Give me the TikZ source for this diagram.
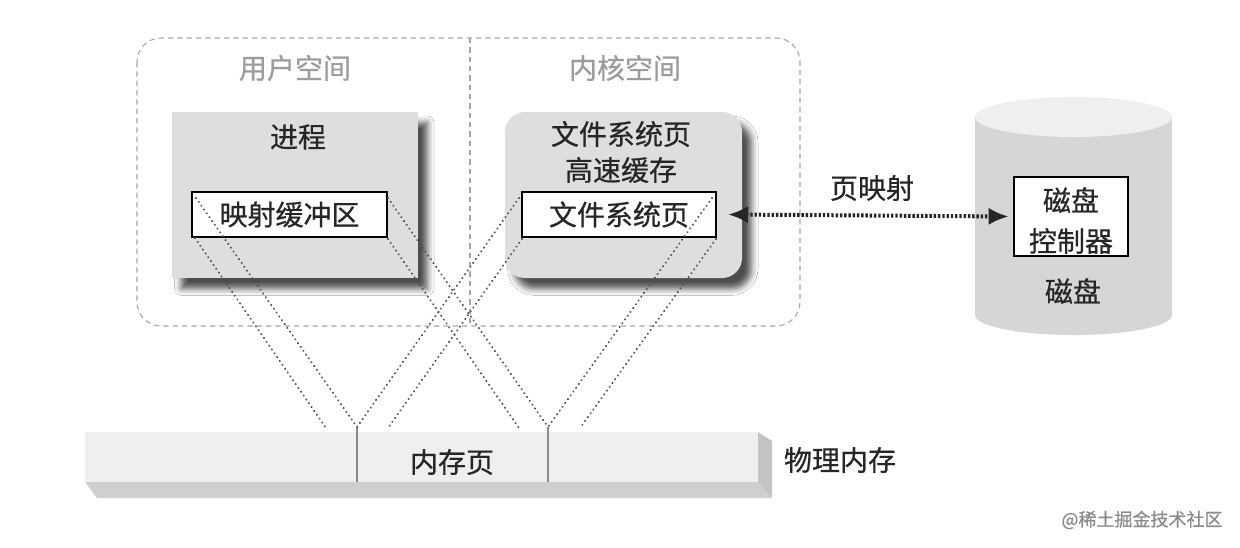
\documentclass[tikz,border=0pt]{standalone}
\usepackage{fontspec}
\setmainfont{Noto Sans CJK SC}[FakeBold=0.6, AutoFakeBold=0.6]
\usetikzlibrary{arrows.meta,shadows.blur}
\definecolor{boxgray}{HTML}{DEDEDE}
\definecolor{diskgray}{HTML}{D6D6D6}
\definecolor{disktop}{HTML}{EFEFEF}
\definecolor{memface}{HTML}{EFEFEF}
\definecolor{membot}{HTML}{CFCFCF}
\definecolor{memside}{HTML}{C4C4C4}
\definecolor{txt}{HTML}{262626}
\definecolor{regiontxt}{HTML}{9C9C9C}
\begin{document}
\begin{tikzpicture}[x=0.75pt,y=-0.75pt,
  every node/.style={inner sep=0pt, outer sep=0pt},
  lbl/.style={font=\fontsize{21}{24}\selectfont\bfseries, text=txt},
  regionlbl/.style={font=\fontsize{21}{24}\selectfont, text=regiontxt},
  region/.style={draw=black!35, line width=0.8pt, dash pattern=on 4pt off 3pt},
  graybox/.style={fill=boxgray, blur shadow={shadow xshift=7pt, shadow yshift=-8pt, shadow blur radius=5pt, shadow opacity=70}},
  whitebox/.style={draw=black, fill=white, line width=2.2pt},
  maplink/.style={draw=black!70, line width=1.6pt, dash pattern=on 0.1pt off 3.4pt, line cap=round},
  pagemap/.style={draw=black!85, line width=3pt, dash pattern=on 1.8pt off 1.4pt, {Latex[length=15pt,width=13pt]}-{Latex[length=15pt,width=13pt]}},
]
\fill[white] (0,0) rectangle (1240,547);
\useasboundingbox (0,0) rectangle (1240,547);

% region frame
\draw[region, rounded corners=18pt] (137,38) rectangle (800,326);
\coordinate (divtop) at (470,38);
\coordinate (divbot) at (470,326);
\draw[region] (divtop) -- (divbot);
\node[regionlbl] (user) at (295,68) {用户空间};
\node[regionlbl] (kernel) at (625,68) {内核空间};

% process box
\node[graybox, minimum width=184.5pt, minimum height=124.5pt] (proc) at (295,195) {};
\node[lbl] (proclbl) at (298,137) {进程};
\node[whitebox, minimum width=146.25pt, minimum height=33.75pt] (mapbuf) at (289.5,214.5) {};
\node[lbl] (mapbuflbl) at (289.5,214.5) {映射缓冲区};

% kernel cache box
\node[graybox, rounded corners=15pt, minimum width=177.75pt, minimum height=124.5pt] (kern) at (623.5,195) {};
\node[lbl] (kernlbl1) at (621,134) {文件系统页};
\node[lbl] (kernlbl2) at (621,170) {高速缓存};
\node[whitebox, minimum width=145.5pt, minimum height=33.75pt] (fsp) at (619,214.5) {};
\node[lbl] (fsplbl) at (619,214.5) {文件系统页};

% disk cylinder
\fill[diskgray] (975,117) rectangle (1172,315);
\fill[diskgray] (1073.5,315) ellipse [x radius=98.5, y radius=20];
\fill[disktop] (1073.5,117) ellipse [x radius=98.5, y radius=20];
\node[draw=black, fill=white, line width=1.8pt, minimum width=85.5pt, minimum height=59.25pt] (ctrl) at (1071,216.5) {};
\node[lbl] (ctrl1) at (1071,200) {磁盘};
\node[lbl] (ctrl2) at (1071,241) {控制器};
\node[lbl] (disklbl) at (1073,291) {磁盘};

% page mapping arrow
\draw[pagemap] ([xshift=9pt]fsp.east) -- ([xshift=-4pt]ctrl.west);
\node[lbl] (pmlbl) at (872,188) {页映射};

% physical memory bar
\fill[membot] (85,482) -- (758,482) -- (772,498) -- (97,498) -- cycle;
\fill[memside] (758,432) -- (772,441) -- (772,498) -- (758,482) -- cycle;
\node[fill=memface, minimum width=504.75pt, minimum height=37.5pt] (mem) at (421.5,457) {};
\node[lbl] (memlbl) at (452,462) {内存页};
\node[lbl] (physlbl) at (840,460) {物理内存};

% page boundaries
\coordinate (v1) at (357,427);
\coordinate (v2) at (548,427);
\coordinate (v1b) at (357,482);
\coordinate (v2b) at (548,482);
\draw[black!45, line width=0.8pt] (v1) -- (v1b);
\draw[black!45, line width=0.8pt] (v2) -- (v2b);
\coordinate (m1) at (326,428);
\coordinate (m2) at (388,428);
\coordinate (m3) at (519,428);
\coordinate (m4) at (580,428);

% mapping lines
\draw[maplink] ([shift={(4,6)}]mapbuf.north west) -- (v1);
\draw[maplink] ([shift={(3,1)}]mapbuf.south west) -- (m1);
\draw[maplink] ([shift={(1,6)}]mapbuf.north east) -- (v2);
\draw[maplink] ([shift={(1,2)}]mapbuf.south east) -- (m3);
\draw[maplink] ([shift={(-3,6)}]fsp.north west) -- (v1);
\draw[maplink] ([shift={(0,2)}]fsp.south west) -- (m2);
\draw[maplink] ([shift={(-4,6)}]fsp.north east) -- (v2);
\draw[maplink] ([shift={(0,2)}]fsp.south east) -- (m4);

% watermark
\node[font=\fontsize{13.5}{16}\selectfont, text=black!45] (wm) at (1142,520) {@稀土掘金技术社区};
\end{tikzpicture}
\end{document}
